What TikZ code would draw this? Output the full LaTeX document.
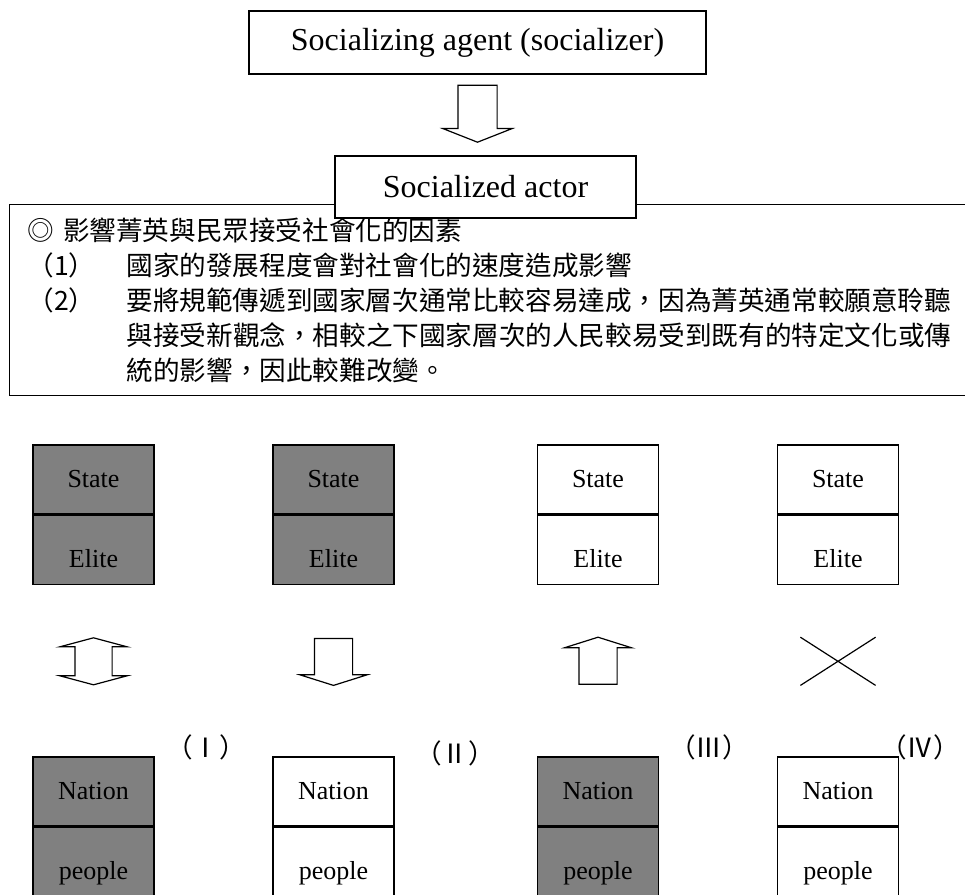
\documentclass[tikz,border=0pt]{standalone}
\usepackage{fontspec}
\setmainfont{Liberation Serif}
\newfontfamily\cjk{Noto Sans CJK TC}
\usepackage{tikz}
\usetikzlibrary{positioning}
\usetikzlibrary{shapes.arrows}
\usetikzlibrary{shapes.misc}

\begin{document}
\begin{tikzpicture}[x=1pt,y=-1pt,
    titlebox/.style={draw,line width=1.2pt,fill=white,inner sep=0pt,font=\fontsize{32}{38}\selectfont},
    notebox/.style={draw,line width=1.2pt,anchor=north west,inner xsep=18pt,inner ysep=0pt,text width=940pt,minimum height=191pt,align=left,font=\cjk\fontsize{26.6}{35}\selectfont},
    upper/.style={draw,line width=1.2pt,minimum width=121pt,minimum height=69pt,inner sep=0pt,font=\fontsize{26}{30}\selectfont},
    lower/.style={upper,text height=38pt,text depth=3pt},
    shaded/.style={fill=gray},
    tag/.style={font=\cjk\fontsize{26.6}{30}\selectfont,inner sep=0pt},
    blockarrow/.style={draw,line width=1.2pt,single arrow,inner ysep=0pt,inner xsep=18.5pt,minimum height=47pt,single arrow head extend=14.5pt,single arrow tip angle=145},
    twoway/.style={draw,line width=1.2pt,double arrow,shape border rotate=90,inner ysep=0pt,inner xsep=18pt,minimum height=47pt,double arrow head extend=15pt,double arrow tip angle=150},
    blocked/.style={draw,line width=1.2pt,cross out,inner sep=0pt,minimum width=74pt,minimum height=47pt}]
  \useasboundingbox (0,0) rectangle (965,894);

  % agent -> actor
  \node[titlebox,minimum width=457pt,minimum height=63pt] (agent) at (477.5,42.5) {Socializing agent (socializer)};
  \node[blockarrow,shape border rotate=270,anchor=tail,inner xsep=19pt,minimum height=57pt,single arrow head extend=15pt,single arrow tip angle=137] (push) at ([yshift=-10pt]agent.south) {};
  \node[notebox] (notes) at (9,204) {%
    ◎ 影響菁英與民眾接受社會化的因素\\
    \makebox[99pt][l]{（1）}國家的發展程度會對社會化的速度造成影響\\
    \makebox[99pt][l]{（2）}要將規範傳遞到國家層次通常比較容易達成，因為菁英通常較願意聆聽\\
    \hspace*{99pt}與接受新觀念，相較之下國家層次的人民較易受到既有的特定文化或傳\\
    \hspace*{99pt}統的影響，因此較難改變。};
  \node[titlebox,minimum width=301pt,minimum height=62pt] (actor) at (485.5,187) {Socialized actor};

  % state / elite
  \node[upper,shaded] (s1) at (93.5,479.5) {State};
  \node[lower,shaded,below=0pt of s1] (e1) {Elite};
  \node[upper,shaded] (s2) at (333.5,479.5) {State};
  \node[lower,shaded,below=0pt of s2] (e2) {Elite};
  \node[upper] (s3) at (598,479.5) {State};
  \node[lower,below=0pt of s3] (e3) {Elite};
  \node[upper] (s4) at (838,479.5) {State};
  \node[lower,below=0pt of s4] (e4) {Elite};

  % nation / people
  \node[upper,shaded] (n1) at (93.5,791.5) {Nation};
  \node[lower,shaded,below=0pt of n1] (p1) {people};
  \node[upper] (n2) at (333.5,791.5) {Nation};
  \node[lower,below=0pt of n2] (p2) {people};
  \node[upper,shaded] (n3) at (598,791.5) {Nation};
  \node[lower,shaded,below=0pt of n3] (p3) {people};
  \node[upper] (n4) at (838,791.5) {Nation};
  \node[lower,below=0pt of n4] (p4) {people};

  % arrows between
  \node[twoway] (a1) at ([yshift=-76.5pt]e1.south) {};
  \node[blockarrow,shape border rotate=270,anchor=tail] (a2) at ([yshift=-53pt]e2.south) {};
  \node[blockarrow,shape border rotate=90,anchor=tail] (a3) at ([yshift=-100pt]e3.south) {};
  \node[blocked] (a4) at ([yshift=-76.5pt]e4.south) {};

  \node[tag] (c1) at (206,747) {（Ⅰ）};
  \node[tag] (c2) at (455,753) {（Ⅱ）};
  \node[tag] (c3) at (709,747) {（Ⅲ）};
  \node[tag] (c4) at (920,747) {（Ⅳ）};
\end{tikzpicture}
\end{document}
